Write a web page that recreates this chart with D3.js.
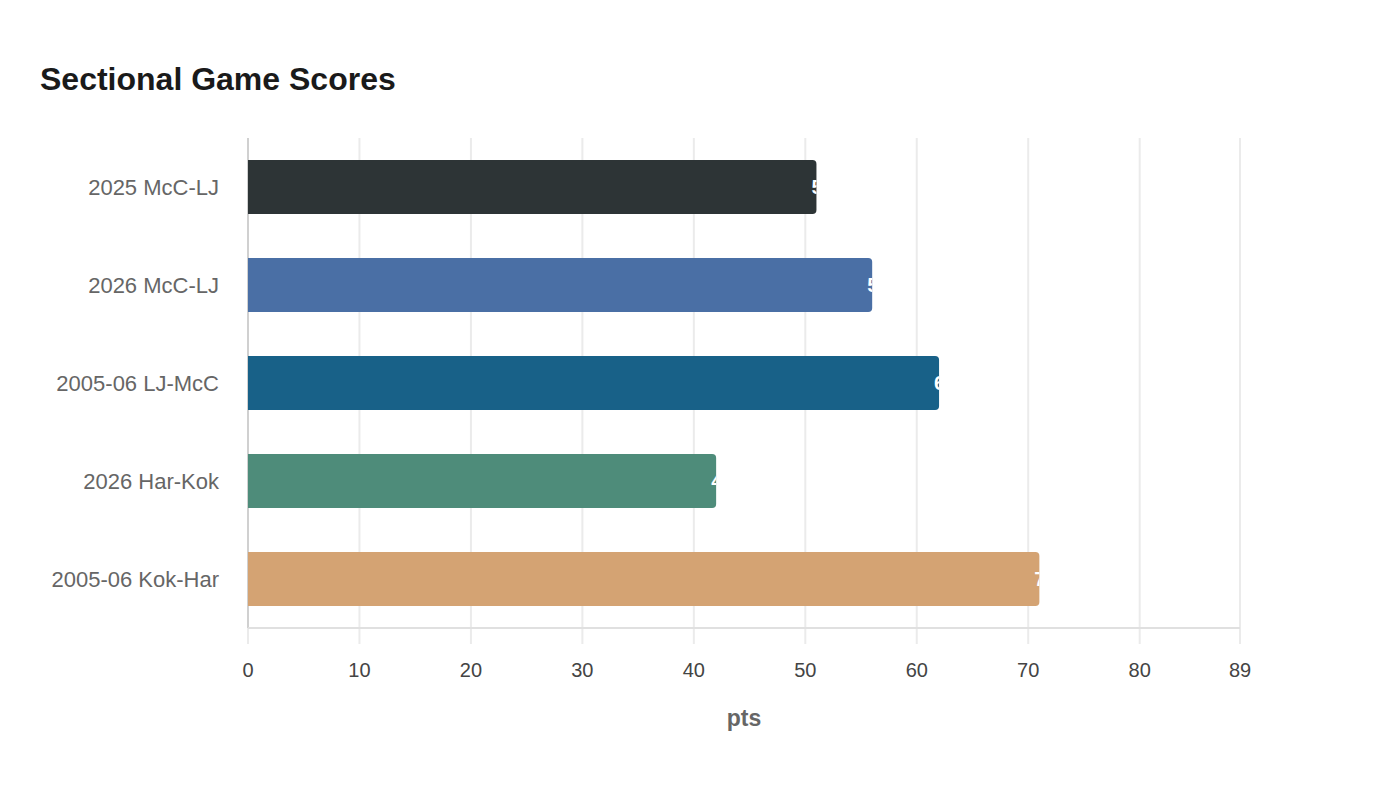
<!DOCTYPE html>
<html><head><meta charset="utf-8">
<script src="https://cdn.jsdelivr.net/npm/d3@7"></script>
<style>body{margin:0;background:#fff;font-family:"Liberation Sans",Arial,sans-serif}</style>
</head><body><svg id="c" width="1400" height="800"></svg>
<script>
const categories = ["2025 McC-LJ","2026 McC-LJ","2005-06 LJ-McC","2026 Har-Kok","2005-06 Kok-Har"];
const values = [51,56,62,42,71];
const colors = ["#2d3436","#4a6fa5","#186188","#4e8c7a","#d4a373"];
const tickValues = [0,10,20,30,40,50,60,70,80,89];
const title = "Sectional Game Scores";
const xTitle = "pts";

const svg = d3.select("#c");
const m = {l:248, r:1240, t:138, b:628};
const x = d3.scaleLinear().domain([0,89]).range([m.l,m.r]);
const y = d3.scaleBand().domain(categories).range([m.t,m.b]).paddingInner(0.45).paddingOuter(0.225);

svg.append("text").attr("x",40).attr("y",90).text(title)
  .attr("font-size",32).attr("font-weight","bold").attr("fill","#1a1a1a");

// grid
svg.append("g").selectAll("line").data(tickValues).join("line")
  .attr("x1",d=>x(d)).attr("x2",d=>x(d)).attr("y1",m.t).attr("y2",m.b+16)
  .attr("stroke","#ebebeb").attr("stroke-width",2);

// axes lines
svg.append("line").attr("x1",m.l).attr("x2",m.l).attr("y1",m.t).attr("y2",m.b).attr("stroke","#d0d0d0").attr("stroke-width",2);
svg.append("line").attr("x1",m.l).attr("x2",m.r).attr("y1",m.b).attr("y2",m.b).attr("stroke","#e0e0e0").attr("stroke-width",2);

// x tick labels
svg.append("g").selectAll("text").data(tickValues).join("text")
  .attr("x",d=>x(d)).attr("y",677).attr("text-anchor","middle")
  .attr("font-size",20).attr("fill","#444").text(d=>d);

// y labels
svg.append("g").selectAll("text").data(categories).join("text")
  .attr("x",219).attr("y",d=>y(d)+y.bandwidth()/2).attr("dy","0.35em").attr("text-anchor","end")
  .attr("font-size",22).attr("fill","#666").text(d=>d);

svg.append("text").attr("x",(m.l+m.r)/2).attr("y",726).attr("text-anchor","middle")
  .attr("font-size",23).attr("font-weight","bold").attr("fill","#666").text(xTitle);

function barPath(x0,y0,x1,h,r){
  return `M${x0},${y0}H${x1-r}Q${x1},${y0} ${x1},${y0+r}V${y0+h-r}Q${x1},${y0+h} ${x1-r},${y0+h}H${x0}Z`;
}
const defs = svg.append("defs");
const bars = svg.append("g");
categories.forEach((c,i)=>{
  const y0=y(c), h=y.bandwidth(), x0=x(0), x1=x(values[i]);
  defs.append("clipPath").attr("id","cp"+i).append("path").attr("d",barPath(x0,y0,x1,h,4));
  bars.append("path").attr("d",barPath(x0,y0,x1,h,4)).attr("fill",colors[i]);
  bars.append("text").attr("clip-path",`url(#cp${i})`).attr("x",x1-5).attr("y",y0+h/2).attr("dy","0.35em")
    .attr("font-size",20).attr("font-weight","bold").attr("fill","#fff").text(values[i]);
});
</script></body></html>
